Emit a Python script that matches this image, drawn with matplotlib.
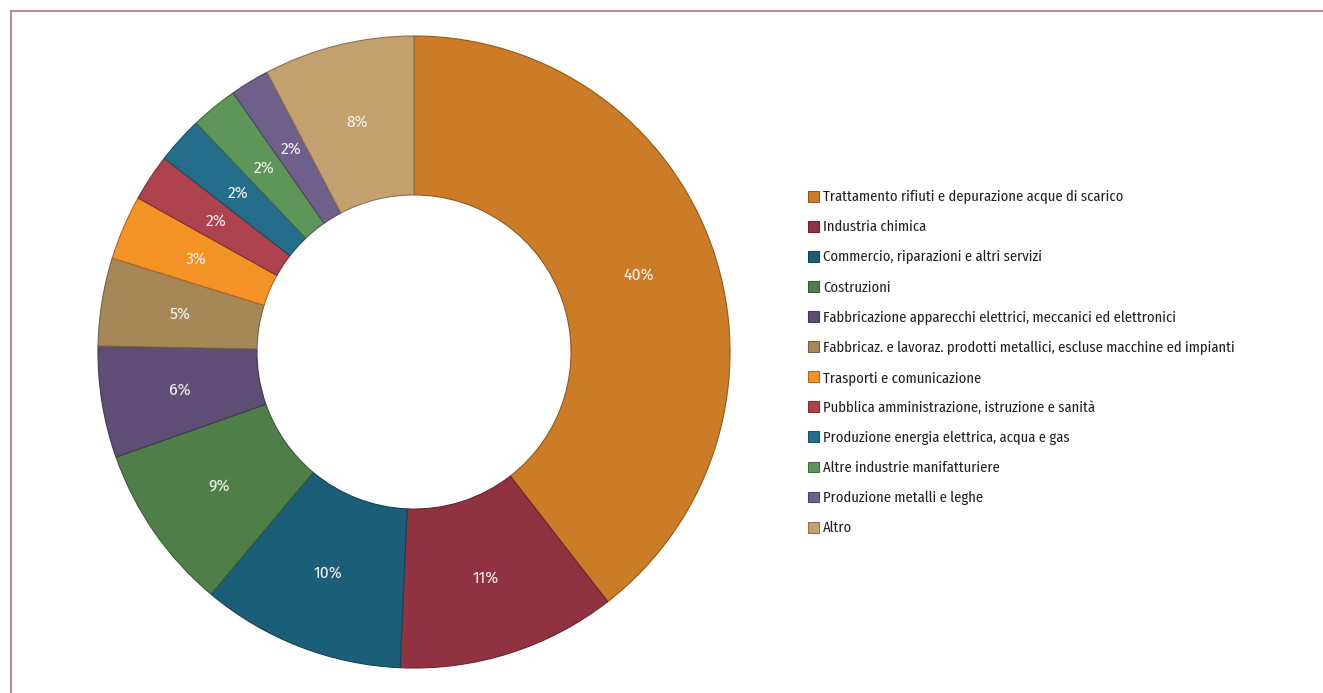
import math
import matplotlib
matplotlib.use('Agg')
import matplotlib.pyplot as plt
from matplotlib.colors import to_rgb
from matplotlib.lines import Line2D
from matplotlib.patches import Patch

plt.rcParams['font.family'] = ['Fira Sans Condensed', 'DejaVu Sans']
plt.rcParams['font.stretch'] = 'condensed'

# settori e quote (%)
sectors = [
    'Trattamento rifiuti e depurazione acque di scarico',
    'Industria chimica',
    'Commercio, riparazioni e altri servizi',
    'Costruzioni',
    'Fabbricazione apparecchi elettrici, meccanici ed elettronici',
    'Fabbricaz. e lavoraz. prodotti metallici, escluse macchine ed impianti',
    'Trasporti e comunicazione',
    'Pubblica amministrazione, istruzione e sanità',
    'Produzione energia elettrica, acqua e gas',
    'Altre industrie manifatturiere',
    'Produzione metalli e leghe',
    'Altro',
]
shares = [39.5, 11.2, 10.4, 8.5, 5.7, 4.5, 3.3, 2.4, 2.4, 2.4, 2.0, 7.7]
colors = ['#CC7B26', '#913240', '#1A5E78', '#4E7F48', '#5E4E75', '#A58758',
          '#F39325', '#AE434F', '#246E8C', '#5E9559', '#6F5F8B', '#C4A06E']


def darker(c, f=0.72):
    r, g, b = to_rgb(c)
    return (r * f, g * f, b * f)


W, H = 1323, 693
fig = plt.figure(figsize=(W / 100, H / 100), dpi=100)

cx, cy, R = 414, 352, 316
ax = fig.add_axes([(cx - R) / W, (H - cy - R) / H, 2 * R / W, 2 * R / H])

wedges, texts, autotexts = ax.pie(
    shares, colors=colors, startangle=90, counterclock=False, radius=1,
    autopct=lambda p: '%d%%' % math.floor(p + 0.5), pctdistance=0.75,
    wedgeprops=dict(width=0.503, linewidth=0.8),
    textprops=dict(color='#F4F1EE', fontsize=12.5))
for w, c in zip(wedges, colors):
    w.set_edgecolor(darker(c))
ax.set_xlim(-1, 1)
ax.set_ylim(-1, 1)
ax.set_aspect('equal')
ax.axis('off')

handles = [Patch(facecolor=c, edgecolor=darker(c), linewidth=0.8) for c in colors]
fig.legend(handles, sectors, loc='upper left', bbox_to_anchor=(808 / W, 1 - 190 / H),
           frameon=False, fontsize=10.5, handlelength=0.75, handleheight=0.75,
           handletextpad=0.3, labelspacing=1.09, borderaxespad=0, borderpad=0,
           labelcolor='#231F20')

# cornice
bc = '#B5737A'
fig.add_artist(Line2D([11 / W, 1], [1 - 10.5 / H, 1 - 10.5 / H], color=bc, linewidth=1.2))
fig.add_artist(Line2D([11 / W, 11 / W], [0, 1 - 10.5 / H], color=bc, linewidth=1.2))

fig.savefig('out.png', dpi=100)
